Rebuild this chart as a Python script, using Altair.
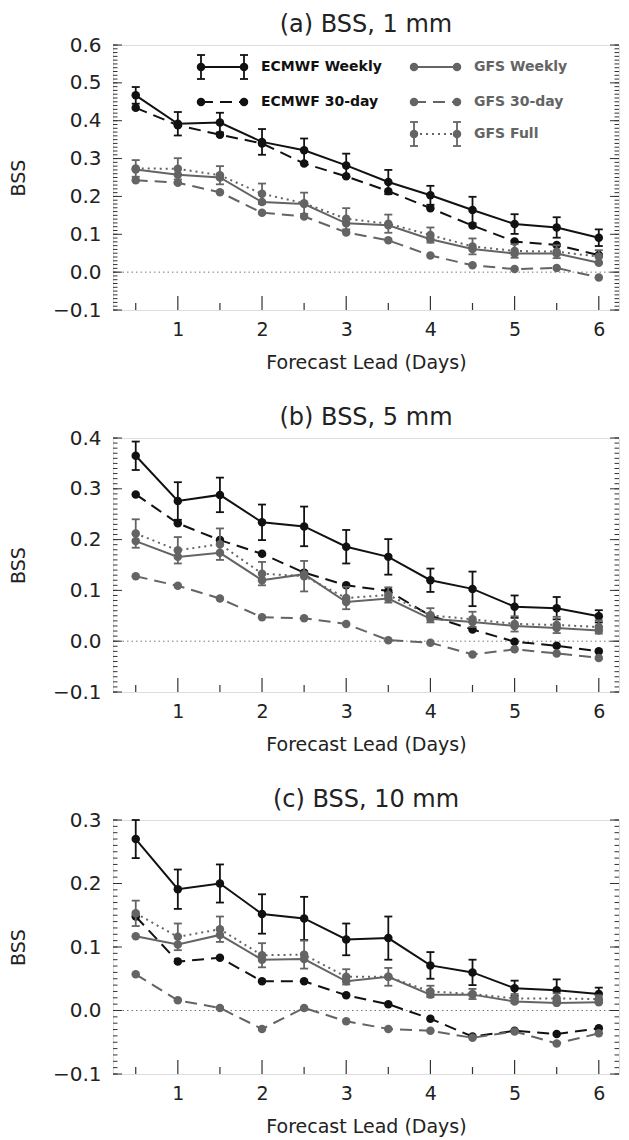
import altair as alt
import pandas as pd

# ---------------- data ----------------
lead = [0.5, 1.0, 1.5, 2.0, 2.5, 3.0, 3.5, 4.0, 4.5, 5.0, 5.5, 6.0]
series_names = ["ECMWF Weekly", "ECMWF 30-day", "GFS Weekly", "GFS 30-day", "GFS Full"]

# panel (a) 1 mm
ecmwf_weekly_a = [0.467, 0.392, 0.395, 0.344, 0.322, 0.282, 0.238, 0.203, 0.164, 0.127, 0.118, 0.091]
ecmwf_weekly_a_err = [0.022, 0.031, 0.026, 0.034, 0.031, 0.031, 0.032, 0.025, 0.035, 0.026, 0.027, 0.022]
ecmwf_30d_a = [0.434, 0.388, 0.363, 0.340, 0.287, 0.253, 0.214, 0.169, 0.123, 0.081, 0.072, 0.045]
gfs_weekly_a = [0.271, 0.257, 0.250, 0.185, 0.180, 0.129, 0.124, 0.087, 0.061, 0.049, 0.049, 0.025]
gfs_30d_a = [0.243, 0.236, 0.211, 0.157, 0.147, 0.105, 0.084, 0.044, 0.018, 0.008, 0.011, -0.014]
gfs_full_a = [0.274, 0.273, 0.256, 0.207, 0.182, 0.141, 0.128, 0.098, 0.068, 0.056, 0.054, 0.041]
gfs_full_a_err = [0.022, 0.028, 0.024, 0.027, 0.028, 0.028, 0.024, 0.020, 0.021, 0.018, 0.017, 0.017]

# panel (b) 5 mm
ecmwf_weekly_b = [0.365, 0.276, 0.288, 0.234, 0.226, 0.186, 0.166, 0.120, 0.103, 0.068, 0.065, 0.049]
ecmwf_weekly_b_err = [0.028, 0.037, 0.034, 0.035, 0.039, 0.033, 0.035, 0.023, 0.034, 0.022, 0.022, 0.012]
ecmwf_30d_b = [0.289, 0.232, 0.199, 0.172, 0.135, 0.110, 0.099, 0.050, 0.023, -0.001, -0.009, -0.020]
gfs_weekly_b = [0.197, 0.166, 0.174, 0.120, 0.132, 0.077, 0.084, 0.044, 0.038, 0.030, 0.026, 0.021]
gfs_30d_b = [0.128, 0.109, 0.084, 0.047, 0.045, 0.034, 0.002, -0.003, -0.026, -0.016, -0.024, -0.033]
gfs_full_b = [0.212, 0.179, 0.191, 0.133, 0.128, 0.085, 0.091, 0.051, 0.043, 0.034, 0.032, 0.028]
gfs_full_b_err = [0.028, 0.026, 0.031, 0.023, 0.030, 0.022, 0.015, 0.014, 0.015, 0.015, 0.016, 0.013]

# panel (c) 10 mm
ecmwf_weekly_c = [0.270, 0.191, 0.200, 0.152, 0.145, 0.112, 0.114, 0.071, 0.060, 0.035, 0.032, 0.026]
ecmwf_weekly_c_err = [0.030, 0.031, 0.030, 0.031, 0.034, 0.025, 0.034, 0.021, 0.020, 0.012, 0.017, 0.010]
ecmwf_30d_c = [0.148, 0.077, 0.083, 0.046, 0.046, 0.024, 0.010, -0.013, -0.041, -0.032, -0.037, -0.028]
gfs_weekly_c = [0.117, 0.104, 0.119, 0.080, 0.081, 0.046, 0.053, 0.025, 0.025, 0.014, 0.012, 0.013]
gfs_30d_c = [0.057, 0.016, 0.004, -0.029, 0.004, -0.017, -0.029, -0.032, -0.043, -0.033, -0.052, -0.036]
gfs_full_c = [0.153, 0.116, 0.128, 0.087, 0.088, 0.053, 0.053, 0.030, 0.026, 0.019, 0.019, 0.018]
gfs_full_c_err = [0.020, 0.021, 0.020, 0.019, 0.022, 0.012, 0.014, 0.009, 0.008, 0.007, 0.008, 0.006]

x_major_ticks = [1, 2, 3, 4, 5, 6]
x_minor_ticks = [0.5, 1.5, 2.5, 3.5, 4.5, 5.5]

# ---------------- style ----------------
FONT = "DejaVu Sans"
BLACK = "#111111"
GRAY = "#646464"
FRAME = "#333333"
W = 506
X_DOMAIN = [0.23, 6.24]

styles = {
    "ECMWF Weekly": dict(color=BLACK, dash=None, width=2.0, err=True),
    "ECMWF 30-day": dict(color=BLACK, dash=[12, 7], width=2.0, err=False),
    "GFS Weekly": dict(color=GRAY, dash=None, width=2.0, err=False),
    "GFS 30-day": dict(color=GRAY, dash=[12, 7], width=2.0, err=False),
    "GFS Full": dict(color=GRAY, dash=[2, 4], width=2.0, err=True),
}


def build_df(vals, errs):
    rows = []
    for name in series_names:
        v = vals[name]
        e = errs.get(name)
        for i, x in enumerate(lead):
            rows.append({"lead": x, "series": name, "bss": v[i],
                         "err": e[i] if e is not None else None})
    return pd.DataFrame(rows)


def xenc(field="lead"):
    return alt.X(f"{field}:Q", scale=alt.Scale(domain=X_DOMAIN, nice=False, zero=False),
                 axis=alt.Axis(values=x_major_ticks, format="d", title="Forecast Lead (Days)",
                               ticks=False, tickSize=0, domain=False, grid=False,
                               labelFontSize=19, titleFontSize=19, labelFont=FONT, titleFont=FONT,
                               labelColor="#222", titleColor="#222", titleFontWeight="normal",
                               labelPadding=10, titlePadding=14))


def yenc(field, ymin, ymax, ticks):
    return alt.Y(f"{field}:Q", scale=alt.Scale(domain=[ymin, ymax], nice=False, zero=False),
                 axis=alt.Axis(values=ticks, format=".1f", title="BSS",
                               ticks=False, tickSize=0, domain=False, grid=False,
                               labelFontSize=20, titleFontSize=19, labelFont=FONT, titleFont=FONT,
                               labelColor="#222", titleColor="#222", titleFontWeight="normal",
                               labelPadding=12, titlePadding=24))


def panel(title, vals, errs, ymin, ymax, height, legend=False):
    df = build_df(vals, errs)
    nmaj = int(round((ymax - ymin) / 0.1))
    y_major = [round(ymin + 0.1 * i, 2) for i in range(nmaj + 1)]
    nmin = int(round((ymax - ymin) / 0.01))
    y_minor = [round(ymin + 0.01 * i, 3) for i in range(nmin + 1)]
    Y = lambda f: yenc(f, ymin, ymax, y_major)

    layers = []
    # zero line
    layers.append(alt.Chart(pd.DataFrame({"z": [0.0]})).mark_rule(
        color="#777", strokeDash=[1.5, 3], strokeWidth=1).encode(y=Y("z")))
    # axis ticks (inward)
    tx_maj = alt.Chart(pd.DataFrame({"t": x_major_ticks}))
    tx_min = alt.Chart(pd.DataFrame({"t": x_minor_ticks}))
    layers.append(tx_maj.mark_rule(color=FRAME, strokeWidth=1.2).encode(
        x=xenc("t"), y=alt.value(height), y2=alt.value(height - 14)))
    layers.append(tx_min.mark_rule(color=FRAME, strokeWidth=1.2).encode(
        x=xenc("t"), y=alt.value(height), y2=alt.value(height - 7)))
    ty_min = alt.Chart(pd.DataFrame({"t": y_minor}))
    ty_maj = alt.Chart(pd.DataFrame({"t": y_major}))
    for x0, x1, src in [(0, 4.5, ty_min), (W, W - 4.5, ty_min), (0, 9, ty_maj), (W, W - 9, ty_maj)]:
        layers.append(src.mark_rule(color=FRAME, strokeWidth=1).encode(
            y=Y("t"), x=alt.value(x0), x2=alt.value(x1)))

    for name in series_names:
        st = styles[name]
        base = alt.Chart(df).transform_filter(alt.datum.series == name)
        lk = dict(color=st["color"], strokeWidth=st["width"])
        if st["dash"]:
            lk["strokeDash"] = st["dash"]
        layers.append(base.mark_line(**lk).encode(x=xenc(), y=Y("bss")))
        if st["err"]:
            eb = base.transform_calculate(lo="datum.bss - datum.err", hi="datum.bss + datum.err")
            layers.append(eb.mark_rule(color=st["color"], strokeWidth=1.8).encode(
                x=xenc(), y=Y("lo"), y2="hi:Q"))
            layers.append(eb.mark_tick(color=st["color"], orient="horizontal", size=8,
                                       thickness=1.8, opacity=1).encode(x=xenc(), y=Y("lo")))
            layers.append(eb.mark_tick(color=st["color"], orient="horizontal", size=8,
                                       thickness=1.8, opacity=1).encode(x=xenc(), y=Y("hi")))
        layers.append(base.mark_point(filled=True, size=72, opacity=1, color=st["color"]).encode(
            x=xenc(), y=Y("bss")))

    if legend:
        one = pd.DataFrame({"k": [0]})
        entries = [
            ("ECMWF Weekly", 88, 131, 148, 22),
            ("ECMWF 30-day", 88, 131, 148, 57),
            ("GFS Weekly", 301, 344, 361, 22),
            ("GFS 30-day", 301, 344, 361, 57),
            ("GFS Full", 301, 344, 361, 89),
        ]
        for name, xa, xb, xt, yy in entries:
            st = styles[name]
            c = alt.Chart(one)
            lk = dict(color=st["color"], strokeWidth=st["width"])
            if st["dash"]:
                lk["strokeDash"] = st["dash"]
            layers.append(c.mark_rule(**lk).encode(
                x=alt.value(xa), x2=alt.value(xb), y=alt.value(yy)))
            for xp in (xa, xb):
                if st["err"]:
                    layers.append(c.mark_rule(color=st["color"], strokeWidth=1.8).encode(
                        x=alt.value(xp), y=alt.value(yy - 12), y2=alt.value(yy + 12)))
                    for yc in (yy - 12, yy + 12):
                        layers.append(c.mark_rule(color=st["color"], strokeWidth=1.8).encode(
                            x=alt.value(xp - 4), x2=alt.value(xp + 4), y=alt.value(yc)))
                layers.append(c.mark_point(filled=True, size=72, opacity=1, color=st["color"]).encode(
                    x=alt.value(xp), y=alt.value(yy)))
            layers.append(c.mark_text(align="left", baseline="middle", font=FONT, fontSize=14,
                                      fontWeight="bold", color=st["color"]).encode(
                x=alt.value(xt), y=alt.value(yy), text=alt.value(name)))

    return alt.layer(*layers).properties(
        width=W, height=height,
        title=alt.TitleParams(title, fontSize=24, font=FONT, fontWeight="normal", color="#222",
                              anchor="middle", offset=-2))


pa = panel("(a) BSS, 1 mm",
           {"ECMWF Weekly": ecmwf_weekly_a, "ECMWF 30-day": ecmwf_30d_a, "GFS Weekly": gfs_weekly_a,
            "GFS 30-day": gfs_30d_a, "GFS Full": gfs_full_a},
           {"ECMWF Weekly": ecmwf_weekly_a_err, "GFS Full": gfs_full_a_err},
           -0.1, 0.6, 265, legend=True)
pb = panel("(b) BSS, 5 mm",
           {"ECMWF Weekly": ecmwf_weekly_b, "ECMWF 30-day": ecmwf_30d_b, "GFS Weekly": gfs_weekly_b,
            "GFS 30-day": gfs_30d_b, "GFS Full": gfs_full_b},
           {"ECMWF Weekly": ecmwf_weekly_b_err, "GFS Full": gfs_full_b_err},
           -0.1, 0.4, 254)
pc = panel("(c) BSS, 10 mm",
           {"ECMWF Weekly": ecmwf_weekly_c, "ECMWF 30-day": ecmwf_30d_c, "GFS Weekly": gfs_weekly_c,
            "GFS 30-day": gfs_30d_c, "GFS Full": gfs_full_c},
           {"ECMWF Weekly": ecmwf_weekly_c_err, "GFS Full": gfs_full_c_err},
           -0.1, 0.3, 254)

chart = alt.vconcat(pa, pb, pc, spacing=32).properties(
    padding={"top": 4, "left": 0, "right": 0, "bottom": 0}
).configure_view(
    stroke=FRAME, strokeWidth=1.6
).configure(background="white")

chart.save("out.html", embed_options={"renderer": "svg", "actions": False})
